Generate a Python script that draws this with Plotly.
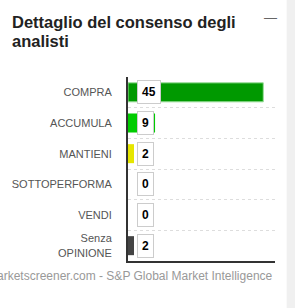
import plotly.graph_objects as go

categories = ["COMPRA", "ACCUMULA", "MANTIENI", "SOTTOPERFORMA", "VENDI", "Senza<br>OPINIONE"]
values = [45, 9, 2, 0, 0, 2]
bar_colors = ["#009900", "#00cc00", "#e6e600", "#ff6600", "#cc0000", "#444444"]
line_colors = ["#99dd99", "rgba(0,0,0,0)", "rgba(0,0,0,0)", "rgba(0,0,0,0)",
               "rgba(0,0,0,0)", "rgba(0,0,0,0)"]
title_lines = ["Dettaglio del consenso degli", "analisti"]

FONT = "Liberation Sans, Arial, sans-serif"
PLOT_LEFT, PLOT_RIGHT = 124, 275
PLOT_TOP, PLOT_BOTTOM = 77, 261
PH = PLOT_BOTTOM - PLOT_TOP
PW = PLOT_RIGHT - PLOT_LEFT


def py(pixel_y):
    return (PLOT_BOTTOM - pixel_y) / PH


def px(pixel_x):
    return (pixel_x - PLOT_LEFT) / PW


fig = go.Figure()
fig.add_trace(go.Bar(
    x=values, y=categories, orientation="h",
    marker=dict(color=bar_colors, line=dict(color=line_colors, width=1)),
    hoverinfo="skip", showlegend=False,
))

for c, v in zip(categories, values):
    fig.add_annotation(
        x=0, y=c, xref="x", yref="y", text=str(v), showarrow=False,
        xanchor="left", xshift=9,
        font=dict(family=FONT, size=12, color="#000000", weight="bold"),
        bgcolor="#ffffff", bordercolor="#cccccc", borderwidth=1, borderpad=4,
    )

for i, line in enumerate(title_lines):
    fig.add_annotation(
        text=line, x=px(3), y=py(22 + 19 * i), xref="paper", yref="paper",
        xanchor="left", yanchor="middle", showarrow=False,
        font=dict(family=FONT, size=16.5, color="#222222", weight="bold"),
    )

fig.add_annotation(text="\u2014", x=1.0, y=py(17), xref="paper", yref="paper",
                   xanchor="right", yanchor="middle", showarrow=False, xshift=4,
                   font=dict(family=FONT, size=13, color="#666666"))
fig.add_annotation(text="Marketscreener.com - S&P Global Market Intelligence",
                   x=1.0, xref="paper", xanchor="right",
                   y=py(276), yref="paper", yanchor="middle", showarrow=False,
                   font=dict(family=FONT, size=12, color="#999999"))

fig.update_layout(
    width=295, height=308,
    margin=dict(l=PLOT_LEFT, r=295 - PLOT_RIGHT, t=PLOT_TOP, b=308 - PLOT_BOTTOM),
    paper_bgcolor="#ffffff", plot_bgcolor="#ffffff",
    bargap=0.38,
    xaxis=dict(range=[0, 48.9], showgrid=False, zeroline=False,
               showticklabels=False, ticks="", showline=True,
               linecolor="#333333", linewidth=2),
    yaxis=dict(type="category", autorange="reversed", tickson="boundaries",
               showgrid=True, gridcolor="#dddddd", griddash="dot", gridwidth=1,
               showline=True, linecolor="#333333", linewidth=2, ticks="",
               ticklabelstandoff=12,
               tickfont=dict(family=FONT, size=11, color="#555555")),
    shapes=[dict(type="rect", xref="paper", yref="paper",
                 x0=px(287), x1=px(296), y0=py(309), y1=py(-1),
                 fillcolor="#f0f0f0", line=dict(width=0), layer="below")],
)

fig.write_html("out.html")
